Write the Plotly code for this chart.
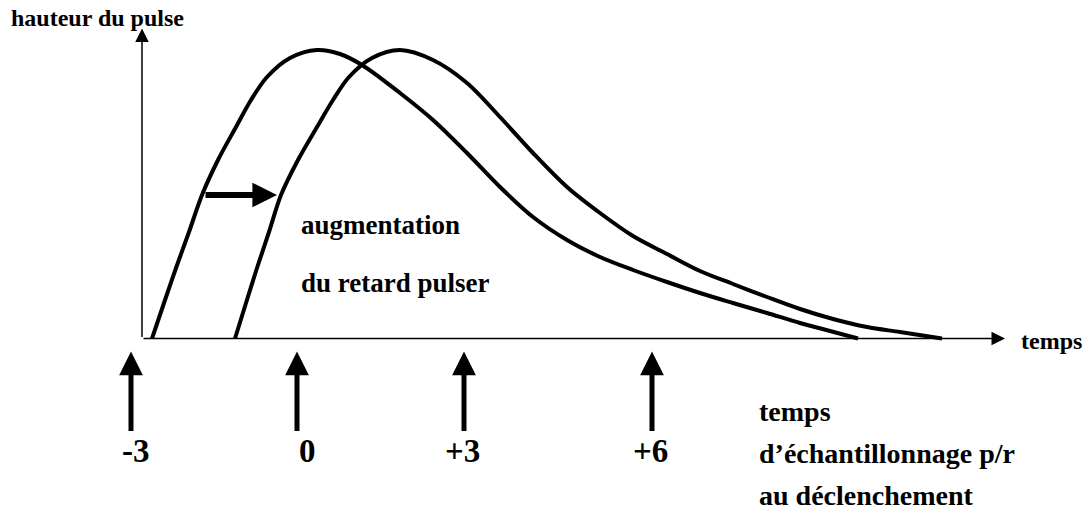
import plotly.graph_objects as go

# Pulse shapes: time along the horizontal axis, pulse height above the baseline
t_pulse_early = [10, 22, 34, 47, 60, 76, 94, 109, 125, 148, 175, 198, 220, 258, 291,
                 325, 358, 391, 425, 458, 491, 525, 558, 591, 625, 658, 688, 716]
h_pulse_early = [0, 35.5, 70.5, 106.5, 143.5, 178.5, 211.5, 238.5, 261.5, 280.5, 288.5,
                 284.5, 273.5, 245.5, 218.5, 185.5, 151.5, 121.5, 98.5, 81.5, 68.5,
                 56.5, 45.5, 35.5, 25.5, 15.5, 7.5, 0]

t_pulse_late = [93, 104, 115, 127, 139, 156, 175, 191, 207, 230, 258, 291, 325, 358,
                391, 425, 458, 491, 525, 558, 591, 625, 658, 691, 725, 758, 800]
h_pulse_late = [0, 35.5, 70.5, 106.5, 143.5, 178.5, 211.5, 238.5, 261.5, 280.5, 288.5,
                278.5, 255.5, 221.5, 185.5, 151.5, 125.5, 102.5, 84.5, 67.5, 54.5,
                41.5, 29.5, 19.5, 11.5, 6.5, 0]

# Sampling instants relative to the trigger
sample_t = [-11, 155, 322, 510]
sample_labels = ["-3", "0", "+3", "+6"]

# Axis extents
t_axis_end = 863
h_axis_end = 310

FONT = "Liberation Serif, Times New Roman, serif"
BLACK = "#000000"

fig = go.Figure()

for t, h in ((t_pulse_early, h_pulse_early), (t_pulse_late, h_pulse_late)):
    fig.add_trace(go.Scatter(
        x=t, y=h, mode="lines",
        line=dict(color=BLACK, width=4, shape="spline", smoothing=0.9),
        hoverinfo="skip", showlegend=False,
    ))

annotations = []


def arrow(x0, y0, x1, y1, width, size):
    annotations.append(dict(
        x=x1, y=y1, ax=x0, ay=y0, xref="x", yref="y", axref="x", ayref="y",
        text="", showarrow=True, arrowhead=2, arrowsize=size, arrowwidth=width,
        arrowcolor=BLACK, standoff=0,
    ))


# Axes with arrow heads
arrow(0, 0, t_axis_end, 0, 1.5, 1.8)
arrow(0, 0, 0, h_axis_end, 1.5, 1.8)

# Shift of the pulse
arrow(62, 143.5, 135, 143.5, 6, 0.82)

# Sampling arrows and their labels
label_shift = [5, 10, -2, -2]
for t, lab, dx in zip(sample_t, sample_labels, label_shift):
    arrow(t, -94, t, -13, 5, 0.95)
    annotations.append(dict(
        x=t, y=-112, xref="x", yref="y", xshift=dx, text=f"<b>{lab}</b>",
        showarrow=False, font=dict(family=FONT, size=33, color=BLACK),
        xanchor="center", yanchor="middle",
    ))


def label(x, y, txt, size):
    annotations.append(dict(
        x=x, y=y, xref="x", yref="y", text=txt, showarrow=False,
        font=dict(family=FONT, size=size, color=BLACK),
        xanchor="left", yanchor="middle", align="left",
    ))


label(-133, 321, "<b>hauteur du pulse</b>", 24)
label(877, -2, "<b>temps</b>", 24)
label(157, 114, "<b>augmentation</b>", 27)
label(157, 56, "<b>du retard pulser</b>", 27)
label(615, -73, "<b>temps</b>", 28)
label(615, -115, "<b>d’échantillonnage p/r</b>", 28)
label(615, -157, "<b>au déclenchement</b>", 28)

fig.update_layout(
    width=1084, height=512,
    margin=dict(l=0, r=0, t=0, b=0),
    paper_bgcolor="white", plot_bgcolor="white",
    font=dict(family=FONT),
    xaxis=dict(range=[-142, 942], visible=False, fixedrange=True),
    yaxis=dict(range=[-173.5, 338.5], visible=False, fixedrange=True),
    annotations=annotations,
    showlegend=False,
)

fig.write_html("out.html")
